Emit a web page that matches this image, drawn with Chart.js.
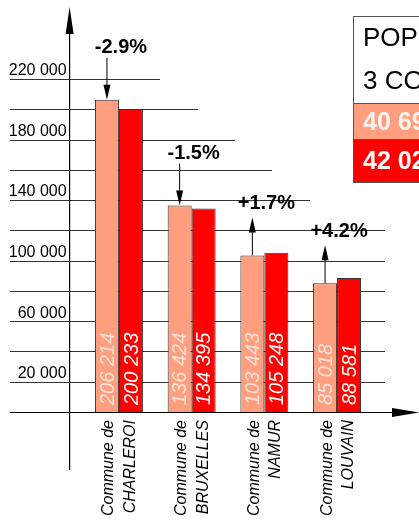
<!DOCTYPE html>
<html>
<head>
<meta charset="utf-8">
<script src="https://cdn.jsdelivr.net/npm/chart.js@4.4.1/dist/chart.umd.min.js"></script>
<style>
  html, body { margin: 0; padding: 0; background: #fff; }
  #wrap { width: 419px; height: 525px; }
</style>
</head>
<body>
<div id="wrap"><canvas id="popChart" width="419" height="525"></canvas></div>
<script>
// Données
const communes = [
    ['Commune de', 'CHARLEROI'],
    ['Commune de', 'BRUXELLES'],
    ['Commune de', 'NAMUR'],
    ['Commune de', 'LOUVAIN']
];
const popAvant = [206214, 136424, 103443, 85018];
const popApres = [200233, 134395, 105248, 88581];
const variations = ['-2.9%', '-1.5%', '+1.7%', '+4.2%'];
const yTicksLabels = [20000, 60000, 100000, 140000, 180000, 220000];
const legendTitre = ['POPULATION', '3 COMMUNES'];
const legendLignes = ['40 69', '42 02'];

const couleurs = ['#ff9f80', '#ff0000'];
const FONT = "'Liberation Sans', Arial, sans-serif";

function fmt(n) {
    return String(n).replace(/\B(?=(\d{3})+(?!\d))/g, ' ');
}

// Longueur des lignes horizontales (en escalier)
const finLignes = { 220000: 160, 200000: 198, 180000: 235, 160000: 272, 140000: 310 };

const decorPlugin = {
    id: 'decor',
    beforeDatasetsDraw(chart) {
        const ctx = chart.ctx;
        const y = chart.scales.y;
        ctx.save();
        ctx.strokeStyle = '#333';
        ctx.lineWidth = 1;
        y.ticks.forEach(t => {
            if (t.value <= 0) return;
            const py = Math.round(y.getPixelForValue(t.value)) + 0.5;
            ctx.beginPath();
            ctx.moveTo(10, py);
            ctx.lineTo(finLignes[t.value] || 385, py);
            ctx.stroke();
        });
        ctx.restore();
    },
    afterDatasetsDraw(chart) {
        const ctx = chart.ctx;
        const a = chart.chartArea;
        const x = chart.scales.x;
        ctx.save();

        // valeurs dans les barres
        chart.data.datasets.forEach((ds, di) => {
            const meta = chart.getDatasetMeta(di);
            meta.data.forEach((bar, i) => {
                ctx.save();
                ctx.translate(bar.x, a.bottom - 7);
                ctx.rotate(-Math.PI / 2);
                ctx.font = 'italic 20px ' + FONT;
                ctx.fillStyle = di === 0 ? '#fde2d8' : '#ffffff';
                ctx.textAlign = 'left';
                ctx.textBaseline = 'middle';
                ctx.fillText(fmt(ds.data[i]), 0, 1);
                ctx.restore();
            });
        });

        // axes avec flèches
        const ax = a.left - 13;
        ctx.strokeStyle = '#000';
        ctx.fillStyle = '#000';
        ctx.lineWidth = 1.2;
        ctx.beginPath();
        ctx.moveTo(ax, 30);
        ctx.lineTo(ax, 470);
        ctx.stroke();
        ctx.beginPath();
        ctx.moveTo(ax, 7);
        ctx.lineTo(ax - 4, 34);
        ctx.lineTo(ax + 4, 34);
        ctx.closePath();
        ctx.fill();

        const by = Math.round(a.bottom) + 0.5;
        ctx.beginPath();
        ctx.moveTo(10, by);
        ctx.lineTo(395, by);
        ctx.stroke();
        ctx.beginPath();
        ctx.moveTo(419, by);
        ctx.lineTo(392, by - 4.5);
        ctx.lineTo(392, by + 4.5);
        ctx.closePath();
        ctx.fill();

        // variations avec flèches
        const meta0 = chart.getDatasetMeta(0);
        variations.forEach((txt, i) => {
            const bar = meta0.data[i];
            const top = bar.y;
            const cx = x.getPixelForValue(i) + 2;
            ctx.font = 'bold 20px ' + FONT;
            ctx.fillStyle = '#000';
            ctx.textAlign = 'center';
            ctx.textBaseline = 'middle';
            ctx.fillText(txt, cx, top - 52);
            ctx.lineWidth = 1;
            ctx.beginPath();
            if (txt.charAt(0) === '-') {
                ctx.moveTo(bar.x, top - 42);
                ctx.lineTo(bar.x, top - 10);
                ctx.stroke();
                ctx.beginPath();
                ctx.moveTo(bar.x, top);
                ctx.lineTo(bar.x - 3.5, top - 15);
                ctx.lineTo(bar.x + 3.5, top - 15);
            } else {
                ctx.moveTo(bar.x, top);
                ctx.lineTo(bar.x, top - 28);
                ctx.stroke();
                ctx.beginPath();
                ctx.moveTo(bar.x, top - 38);
                ctx.lineTo(bar.x - 3.5, top - 23);
                ctx.lineTo(bar.x + 3.5, top - 23);
            }
            ctx.closePath();
            ctx.fill();
        });

        // cadre de légende
        const lx = 353;
        ctx.fillStyle = '#fff';
        ctx.fillRect(lx, 16, 80, 87);
        ctx.fillStyle = couleurs[0];
        ctx.fillRect(lx, 103, 80, 36);
        ctx.fillStyle = couleurs[1];
        ctx.fillRect(lx, 139, 80, 44);
        ctx.strokeStyle = '#555';
        ctx.lineWidth = 1;
        ctx.strokeRect(lx + 0.5, 16.5, 80, 166);
        ctx.beginPath();
        ctx.moveTo(lx, 103.5); ctx.lineTo(419, 103.5);
        ctx.moveTo(lx, 139.5); ctx.lineTo(419, 139.5);
        ctx.stroke();
        ctx.textAlign = 'left';
        ctx.textBaseline = 'middle';
        ctx.fillStyle = '#000';
        ctx.font = '26px ' + FONT;
        ctx.fillText(legendTitre[0], 363, 39);
        ctx.fillText(legendTitre[1], 363, 82);
        ctx.font = 'bold 25px ' + FONT;
        ctx.fillStyle = '#fff4ef';
        ctx.fillText(legendLignes[0], 363, 123);
        ctx.fillStyle = '#fff';
        ctx.fillText(legendLignes[1], 363, 162);

        ctx.restore();
    }
};

new Chart(document.getElementById('popChart'), {
    type: 'bar',
    data: {
        labels: communes,
        datasets: [
            {
                label: 'Avant',
                data: popAvant,
                backgroundColor: couleurs[0],
                borderColor: '#333',
                borderWidth: 1,
                barPercentage: 1.0,
                categoryPercentage: 0.66
            },
            {
                label: 'Après',
                data: popApres,
                backgroundColor: couleurs[1],
                borderColor: '#333',
                borderWidth: 1,
                barPercentage: 1.0,
                categoryPercentage: 0.66
            }
        ]
    },
    options: {
        responsive: false,
        animation: false,
        layout: { padding: { left: 0, right: 45.6, top: 79, bottom: 0 } },
        plugins: {
            legend: { display: false },
            tooltip: { enabled: false }
        },
        scales: {
            x: {
                grid: { display: false, drawTicks: false, tickLength: 0 },
                border: { display: false },
                afterFit: s => { s.height = 113; },
                ticks: {
                    autoSkip: false,
                    minRotation: 90,
                    maxRotation: 90,
                    padding: 8,
                    labelOffset: -10,
                    color: '#000',
                    font: { family: FONT, size: 16, style: 'italic', lineHeight: 1.35 }
                }
            },
            y: {
                min: 0,
                max: 220000,
                grid: { display: false, drawTicks: false, tickLength: 0 },
                border: { display: false },
                afterFit: s => { s.width = 82.6; },
                ticks: {
                    stepSize: 20000,
                    padding: 16,
                    labelOffset: -8,
                    color: '#000',
                    font: { family: FONT, size: 16 },
                    callback: v => yTicksLabels.includes(v) ? fmt(v) : ''
                }
            }
        }
    },
    plugins: [decorPlugin]
});
</script>
</body>
</html>
